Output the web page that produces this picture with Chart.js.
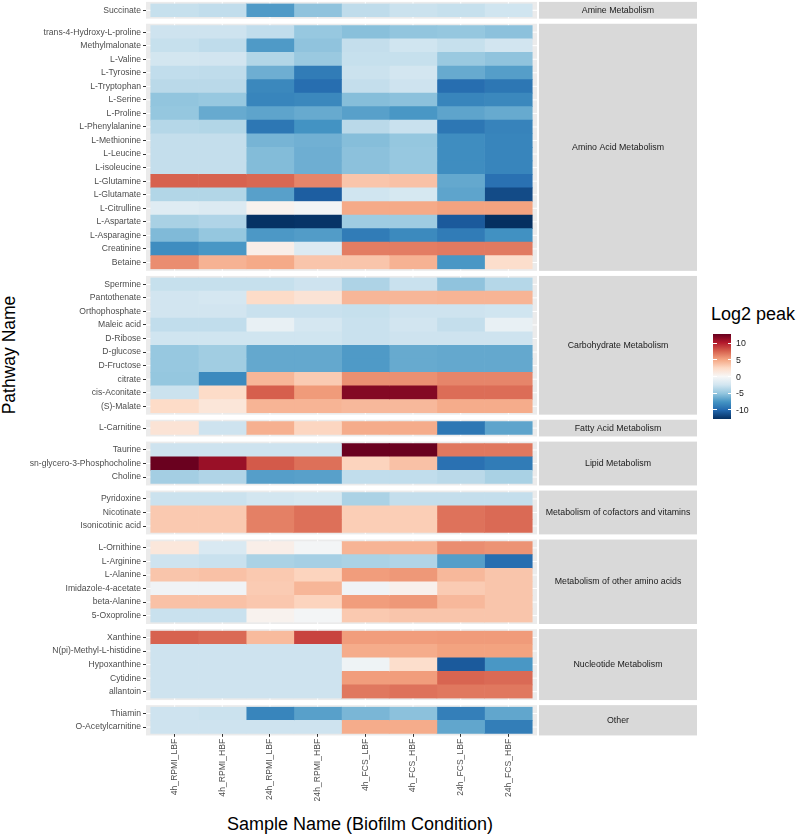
<!DOCTYPE html>
<html>
<head>
<meta charset="utf-8">
<script src="https://cdn.jsdelivr.net/npm/chart.js@4.4.1/dist/chart.umd.min.js"></script>
<style>
  body { margin: 0; background: #fff; font-family: "Liberation Sans", Arial, sans-serif; }
  #wrap { position: relative; width: 797px; height: 836px; overflow: hidden; }
  #wrap canvas { position: absolute; left: 0; }
  .ttl { position: absolute; font-size: 18px; color: #000; white-space: nowrap; line-height: 1; }
  .lab { position: absolute; font-size: 8.8px; color: #1a1a1a; line-height: 1; transform: translateY(-50%); }
  .tk { position: absolute; height: 1px; width: 3.5px; background: #fff; }
</style>
</head>
<body>
<div id="wrap">
  <div class="ttl" style="left:9.5px;top:355px;font-size:17.5px;transform:translate(-50%,-50%) rotate(-90deg);">Pathway Name</div>
  <div class="ttl" style="left:360px;top:824px;transform:translate(-50%,-50%);">Sample Name (Biofilm Condition)</div>
  <div class="ttl" style="left:711px;top:305px;">Log2 peak</div>
  <div id="bar" style="position:absolute;left:713px;top:334px;width:18px;height:85px;"></div>
</div>
<script>
/* =========================
   DATA
========================= */
const samples = ["4h_RPMI_LBF", "4h_RPMI_HBF", "24h_RPMI_LBF", "24h_RPMI_HBF",
                 "4h_FCS_LBF", "4h_FCS_HBF", "24h_FCS_LBF", "24h_FCS_HBF"];

const amineNames = ["Succinate"];
const amineValues = [
    [-3.0, -3.2, -7.3, -5.2, -3.3, -2.8, -3.0, -2.6]
];

const aminoNames = ["trans-4-Hydroxy-L-proline", "Methylmalonate", "L-Valine", "L-Tyrosine",
    "L-Tryptophan", "L-Serine", "L-Proline", "L-Phenylalanine", "L-Methionine", "L-Leucine",
    "L-isoleucine", "L-Glutamine", "L-Glutamate", "L-Citrulline", "L-Aspartate",
    "L-Asparagine", "Creatinine", "Betaine"];
const aminoValues = [
    [-2.7, -2.7, -3.2, -4.9, -5.4, -5.1, -5.0, -5.3],
    [-3.0, -3.3, -7.3, -5.2, -3.1, -2.6, -3.0, -2.5],
    [-2.4, -2.5, -3.8, -4.8, -3.0, -3.0, -4.8, -5.2],
    [-3.2, -3.3, -6.3, -9.0, -2.8, -2.4, -6.5, -7.1],
    [-3.5, -3.5, -8.3, -9.8, -3.1, -2.7, -9.8, -9.3],
    [-5.1, -4.9, -8.5, -8.3, -5.5, -5.3, -8.5, -8.3],
    [-5.0, -6.5, -6.8, -6.5, -7.0, -7.5, -6.8, -6.5],
    [-3.7, -3.8, -9.3, -7.7, -3.5, -2.9, -9.3, -8.6],
    [-3.1, -3.1, -6.0, -6.2, -5.5, -5.0, -8.0, -8.5],
    [-3.1, -3.1, -5.6, -6.3, -5.3, -4.9, -8.0, -8.5],
    [-3.1, -3.1, -5.6, -6.3, -5.3, -4.9, -8.0, -8.5],
    [7.6, 7.6, 7.4, 6.3, 3.6, 3.8, -6.6, -9.6],
    [-3.8, -3.8, -7.0, -10.6, -2.6, -2.2, -6.8, -11.5],
    [-1.6, -1.8, 0.5, -0.3, 4.9, 4.9, 5.2, 5.2],
    [-4.2, -3.9, -12.7, -12.6, -4.6, -4.6, -10.8, -12.8],
    [-5.7, -5.0, -7.4, -7.2, -9.0, -8.2, -9.0, -7.8],
    [-8.0, -7.5, 0.8, -1.8, 6.6, 6.6, 6.7, 6.7],
    [6.0, 4.5, 4.9, 3.6, 3.6, 4.5, -7.5, 2.3]
];

const carbNames = ["Spermine", "Pantothenate", "Orthophosphate", "Maleic acid", "D-Ribose",
    "D-glucose", "D-Fructose", "citrate", "cis-Aconitate", "(S)-Malate"];
const carbValues = [
    [-3.0, -3.0, -3.0, -2.7, -4.0, -2.9, -5.2, -3.7],
    [-2.5, -2.3, 2.5, 1.8, 4.3, 4.3, 4.4, 4.4],
    [-2.5, -2.5, -2.9, -2.9, -3.0, -2.7, -2.7, -2.6],
    [-3.2, -3.2, -1.0, -2.3, -2.9, -2.5, -3.1, -1.0],
    [-2.6, -2.6, -2.6, -2.6, -2.9, -2.7, -2.7, -2.7],
    [-4.9, -4.5, -6.6, -6.6, -7.3, -6.5, -6.6, -6.6],
    [-4.9, -4.5, -6.6, -6.6, -7.3, -6.5, -6.6, -6.6],
    [-5.0, -8.2, 4.3, 3.3, 5.9, 5.9, 6.3, 6.3],
    [-2.8, 2.5, 7.7, 5.5, 11.8, 11.8, 7.2, 7.2],
    [2.5, 1.6, 4.4, 4.4, 4.2, 4.2, 4.8, 4.8]
];

const fattyNames = ["L-Carnitine"];
const fattyValues = [
    [1.8, -2.7, 4.6, 2.8, 4.8, 4.8, -9.3, -6.8]
];

const lipidNames = ["Taurine", "sn-glycero-3-Phosphocholine", "Choline"];
const lipidValues = [
    [-2.7, -2.7, -2.7, -2.7, 12.7, 12.7, 6.8, 6.8],
    [12.7, 11.1, 7.9, 7.1, 2.9, 3.8, -9.6, -9.0],
    [-4.4, -3.9, -7.1, -7.0, -3.2, -3.2, -3.5, -4.2]
];

const cofactorNames = ["Pyridoxine", "Nicotinate", "Isonicotinic acid"];
const cofactorValues = [
    [-2.8, -2.8, -2.4, -2.2, -4.1, -3.1, -3.1, -3.1],
    [3.4, 3.4, 6.5, 7.1, 3.2, 3.2, 7.0, 7.3],
    [3.4, 3.4, 6.5, 7.1, 3.2, 3.2, 7.0, 7.3]
];

const otherAminoNames = ["L-Ornithine", "L-Arginine", "L-Alanine", "Imidazole-4-acetate",
    "beta-Alanine", "5-Oxoproline"];
const otherAminoValues = [
    [1.5, -2.0, 0.8, -0.3, 4.4, 4.4, 6.0, 5.8],
    [-2.7, -2.9, -4.1, -4.3, -4.1, -3.9, -7.1, -9.8],
    [3.6, 3.8, 3.4, 2.9, 5.4, 5.6, 4.2, 3.6],
    [-0.5, -0.5, 3.3, 4.3, -0.5, 0.6, 3.3, 3.6],
    [3.8, 3.8, 3.5, 2.9, 5.4, 5.6, 4.2, 3.6],
    [-2.9, -2.9, 0.5, -0.3, 3.4, 3.6, 3.6, 3.6]
];

const nucleotideNames = ["Xanthine", "N(pi)-Methyl-L-histidine", "Hypoxanthine", "Cytidine", "allantoin"];
const nucleotideValues = [
    [7.6, 7.3, 4.1, 8.7, 5.4, 5.4, 5.5, 5.5],
    [-2.7, -2.7, -2.7, -2.7, 4.8, 4.8, 5.2, 5.2],
    [-2.7, -2.7, -2.7, -2.7, -0.6, 2.3, -10.8, -7.5],
    [-2.7, -2.7, -2.7, -2.7, 5.4, 5.4, 7.5, 7.3],
    [-2.7, -2.7, -2.7, -2.7, 6.8, 7.0, 6.8, 6.8]
];

const otherNames = ["Thiamin", "O-Acetylcarnitine"];
const otherValues = [
    [-2.7, -2.8, -8.5, -7.0, -5.9, -5.3, -8.8, -6.7],
    [-2.7, -2.7, -2.7, -2.7, 4.8, 4.8, -6.7, -8.9]
];

const legendBreaks = [10, 5, 0, -5, -10];
const scaleLimit = 12.8;
const paletteColors = ["#053061", "#2166ac", "#4393c3", "#92c5de", "#d1e5f0", "#f7f7f7",
                       "#fddbc7", "#f4a582", "#d6604d", "#b2182b", "#67001f"];

const groups = [
    { strip: "Amine Metabolism", names: amineNames, values: amineValues },
    { strip: "Amino Acid Metabolism", names: aminoNames, values: aminoValues },
    { strip: "Carbohydrate Metabolism", names: carbNames, values: carbValues },
    { strip: "Fatty Acid Metabolism", names: fattyNames, values: fattyValues },
    { strip: "Lipid Metabolism", names: lipidNames, values: lipidValues },
    { strip: "Metabolism of cofactors and vitamins", names: cofactorNames, values: cofactorValues },
    { strip: "Metabolism of other amino acids", names: otherAminoNames, values: otherAminoValues },
    { strip: "Nucleotide Metabolism", names: nucleotideNames, values: nucleotideValues },
    { strip: "Other", names: otherNames, values: otherValues }
];

/* =========================
   COLOURS
========================= */
function hexToRgb(h) {
    return [1, 3, 5].map(i => parseInt(h.substr(i, 2), 16));
}
const paletteRgb = paletteColors.map(hexToRgb);

function fillFor(v) {
    const c = Math.max(-scaleLimit, Math.min(scaleLimit, v));
    const t = (c + scaleLimit) / (2 * scaleLimit) * (paletteRgb.length - 1);
    const i = Math.min(paletteRgb.length - 2, Math.floor(t));
    const f = t - i;
    const a = paletteRgb[i], b = paletteRgb[i + 1];
    const rgb = a.map((x, k) => Math.round(x + (b[k] - x) * f));
    return "rgb(" + rgb.join(",") + ")";
}

/* =========================
   LAYOUT
========================= */
const ROW_H = 13.55;
const FIRST_TOP = 3.5;
const GAP = 8.3;
const PANEL_L = 146;
const PANEL_R = 537;
const STRIP_L = 539;
const STRIP_R = 697;
const PANEL_PAD = 1.6;
const EDGE = 7;
const AXIS_H = 80;
const CANVAS_W = 700;

Chart.defaults.font.family = '"Liberation Sans", Arial, sans-serif';
Chart.defaults.color = "#4d4d4d";

const facetPlugin = {
    id: "facet",
    beforeDraw(chart, args, opts) {
        const { ctx, chartArea: a } = chart;
        const top = a.top - PANEL_PAD;
        const h = a.bottom - a.top + 2 * PANEL_PAD;
        ctx.save();
        ctx.fillStyle = "#ebebeb";
        ctx.fillRect(a.left, top, a.right - a.left, h);
        ctx.strokeStyle = "#ffffff";
        ctx.lineWidth = 1;
        ctx.beginPath();
        samples.forEach((s, j) => {
            const px = chart.scales.x.getPixelForValue(j + 0.5);
            ctx.moveTo(px, top);
            ctx.lineTo(px, top + h);
        });
        chart.scales.y.ticks.forEach((t, i) => {
            const py = chart.scales.y.getPixelForTick(i);
            ctx.moveTo(a.left, py);
            ctx.lineTo(a.right, py);
        });
        ctx.stroke();
        ctx.restore();
    },
    afterDraw(chart, args, opts) {
        const { ctx, chartArea: a } = chart;
        const top = a.top - PANEL_PAD;
        const h = a.bottom - a.top + 2 * PANEL_PAD;
        ctx.save();
        ctx.fillStyle = "#d9d9d9";
        ctx.fillRect(STRIP_L, top, STRIP_R - STRIP_L, h);
        ctx.fillStyle = "#1a1a1a";
        ctx.font = '8.8px "Liberation Sans", Arial, sans-serif';
        ctx.textAlign = "center";
        ctx.textBaseline = "middle";
        ctx.fillText(opts.label, (STRIP_L + STRIP_R) / 2, top + h / 2);
        ctx.restore();
    }
};

/* =========================
   PANELS
========================= */
const wrap = document.getElementById("wrap");
let rowsBefore = 0;

groups.forEach((g, gi) => {
    const isLast = gi === groups.length - 1;
    const cellTop = FIRST_TOP + rowsBefore * ROW_H + gi * GAP;
    const cellH = g.names.length * ROW_H;
    rowsBefore += g.names.length;

    const canvasTop = Math.floor(cellTop - EDGE);
    const padTop = cellTop - canvasTop;
    const canvasH = Math.ceil(padTop + cellH + EDGE + (isLast ? AXIS_H : 0));
    const padBottom = canvasH - padTop - cellH - (isLast ? AXIS_H : 0);

    const canvas = document.createElement("canvas");
    canvas.width = CANVAS_W;
    canvas.height = canvasH;
    canvas.style.width = CANVAS_W + "px";
    canvas.style.height = canvasH + "px";
    canvas.style.top = canvasTop + "px";
    wrap.appendChild(canvas);

    const xScale = {
        type: "linear",
        stacked: true,
        min: -0.1,
        max: 8.1,
        display: isLast,
        grid: { drawOnChartArea: false, tickLength: 3, tickColor: "#333333" },
        border: { display: false },
        afterBuildTicks(scale) {
            scale.ticks = samples.map((s, j) => ({ value: j + 0.5 }));
        },
        ticks: {
            autoSkip: false,
            minRotation: 90,
            maxRotation: 90,
            padding: 2,
            color: "#4d4d4d",
            font: { size: 8.6 },
            callback: v => samples[Math.round(v - 0.5)]
        }
    };
    if (isLast) {
        xScale.afterFit = scale => { scale.height = AXIS_H; };
    }

    new Chart(canvas, {
        type: "bar",
        data: {
            labels: g.names,
            datasets: samples.map((s, j) => ({
                label: s,
                data: g.names.map(() => 1),
                backgroundColor: g.values.map(row => fillFor(row[j])),
                borderWidth: 0,
                barPercentage: 1,
                categoryPercentage: 1
            }))
        },
        options: {
            indexAxis: "y",
            responsive: false,
            animation: false,
            events: [],
            layout: { padding: { top: padTop, bottom: padBottom, left: 0, right: CANVAS_W - PANEL_R } },
            scales: {
                x: xScale,
                y: {
                    type: "category",
                    stacked: true,
                    offset: true,
                    grid: { drawOnChartArea: false, offset: false, tickLength: 3, tickColor: "#333333" },
                    border: { display: false },
                    ticks: { autoSkip: false, padding: 2, color: "#4d4d4d", font: { size: 8.6 } },
                    afterFit(scale) { scale.width = PANEL_L; }
                }
            },
            plugins: {
                legend: { display: false },
                tooltip: { enabled: false },
                facet: { label: g.strip }
            }
        },
        plugins: [facetPlugin]
    });
});

/* =========================
   COLOUR BAR
========================= */
const bar = document.getElementById("bar");
const BAR_TOP = 334, BAR_H = 85;
bar.style.background = "linear-gradient(to top, " +
    paletteColors.map((c, i) => c + " " + (i / (paletteColors.length - 1) * 100).toFixed(1) + "%").join(", ") + ")";

legendBreaks.forEach(v => {
    const y = BAR_TOP + (scaleLimit - v) / (2 * scaleLimit) * BAR_H;
    const lab = document.createElement("div");
    lab.className = "lab";
    lab.style.left = "736px";
    lab.style.top = y + "px";
    lab.textContent = v;
    wrap.appendChild(lab);
    [713, 727.5].forEach(x => {
        const tk = document.createElement("div");
        tk.className = "tk";
        tk.style.left = x + "px";
        tk.style.top = (y - 0.5) + "px";
        wrap.appendChild(tk);
    });
});
</script>
</body>
</html>
